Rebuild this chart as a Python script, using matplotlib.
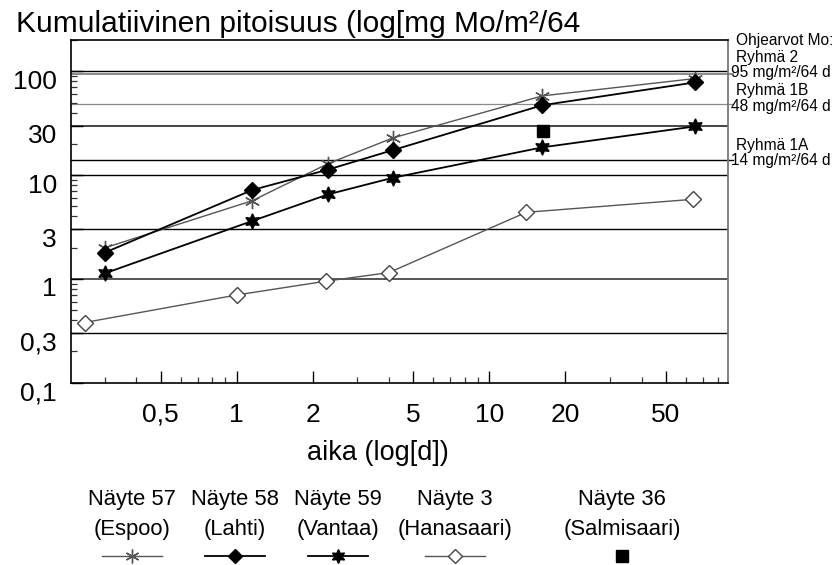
import numpy as np
import matplotlib
matplotlib.use("Agg")
import matplotlib.pyplot as plt
from matplotlib.lines import Line2D
from matplotlib.ticker import FixedLocator, NullFormatter
from matplotlib.transforms import ScaledTranslation

plt.rcParams['font.family'] = ['Liberation Sans', 'DejaVu Sans']

# aika (d) ja kumulatiivinen pitoisuus (mg Mo/m²)
aika = [0.3, 1.15, 2.3, 4.15, 16.2, 65]
espoo = [1.99, 5.66, 12.9, 22.8, 57.9, 85]
lahti = [1.79, 7.17, 11.3, 17.4, 47.1, 78]
vantaa = [1.13, 3.61, 6.52, 9.42, 18.5, 29.4]
aika_hana = [0.25, 1.0, 2.25, 4.0, 14.0, 64.0]
hanasaari = [0.38, 0.70, 0.95, 1.15, 4.38, 5.84]
aika_salmi = [16.3]
salmisaari = [26.5]

# ohjearvot
ohje = [95, 48, 14]
ohje_nimet = ['Ryhmä 2', 'Ryhmä 1B', 'Ryhmä 1A']

y_ticks = [0.1, 0.3, 1, 3, 10, 30, 100]
y_labels = ['0,1', '0,3', '1', '3', '10', '30', '100']
x_ticks = [0.5, 1, 2, 5, 10, 20, 50]
x_labels = ['0,5', '1', '2', '5', '10', '20', '50']

W, H = 839, 565
fig = plt.figure(figsize=(W / 100, H / 100), dpi=100)
ax = fig.add_axes([70.7 / W, 1 - 382.7 / H, (728 - 70.7) / W, (382.7 - 40) / H])
ax.set_xscale('log')
ax.set_yscale('log')
ax.set_xlim(0.22, 88)
ax.set_ylim(0.1, 200)

# vaakaviivat
viivat = {0.3: ('black', 1.0), 1: ('#555555', 1.4), 3: ('black', 1.0),
          10: ('black', 1.0), 30: ('#444444', 1.4), 100: ('black', 1.0)}
for v, (c, lw) in viivat.items():
    ax.axhline(v, color=c, lw=lw, zorder=1)
ax.axhline(95, color='#777777', lw=1.2, xmax=1.008, clip_on=False, zorder=1)
ax.axhline(48, color='#888888', lw=0.9, xmax=1.008, clip_on=False, zorder=1)
ax.axhline(14, color='black', lw=1.0, xmax=1.008, clip_on=False, zorder=1)

ax.plot(aika, espoo, color='#555555', lw=1.0, marker=(6, 2, 0), ms=11,
        mec='#555555', mew=1.0, zorder=3)
ax.plot(aika, lahti, color='black', lw=1.3, marker='D', ms=8.5,
        mfc='black', mec='black', zorder=3)
ax.plot(aika, vantaa, color='black', lw=1.3, marker=(6, 1, 0), ms=11,
        mfc='black', mec='black', zorder=3)
ax.plot(aika_hana, hanasaari, color='#555555', lw=1.0, marker='D', ms=8,
        mfc='white', mec='#444444', mew=1.0, zorder=3)
ax.plot(aika_salmi, salmisaari, ls='none', marker='s', ms=9,
        color='black', zorder=3)

# akselit ja tikit
ax.xaxis.set_major_locator(FixedLocator(x_ticks))
ax.set_xticklabels(x_labels)
x_minor = [m * 10.0 ** e for e in range(-1, 2) for m in range(2, 10)]
ax.xaxis.set_minor_locator(FixedLocator([v for v in x_minor if v not in x_ticks]))
ax.xaxis.set_minor_formatter(NullFormatter())
ax.yaxis.set_major_locator(FixedLocator(y_ticks))
ax.set_yticklabels(y_labels)
y_minor = [m * 10.0 ** e for e in range(-1, 3) for m in range(2, 10)]
ax.yaxis.set_minor_locator(FixedLocator([v for v in y_minor if v not in y_ticks]))
ax.yaxis.set_minor_formatter(NullFormatter())

ax.tick_params(which='major', direction='in', length=8.5, width=1.0,
               labelsize=19, color='black')
ax.tick_params(which='minor', direction='in', length=4.5, width=0.9,
               color='#333333')
ax.tick_params(axis='x', which='major', pad=14.5)
ax.tick_params(axis='y', which='major', pad=10)
ax.tick_params(top=False, right=False, which='both')

siirto = ScaledTranslation(0, -8 / 100, fig.dpi_scale_trans)
for lab in ax.get_yticklabels():
    lab.set_transform(lab.get_transform() + siirto)

for s in ['left', 'bottom', 'top']:
    ax.spines[s].set_color('black')
    ax.spines[s].set_linewidth(1.2)
ax.spines['right'].set_color('#777777')
ax.spines['right'].set_linewidth(1.3)

# otsikko ja selitteet
fig.text(16 / W, 1 - 32 / H, 'Kumulatiivinen pitoisuus (log[mg Mo/m²/64',
         fontsize=21.5, va='baseline', ha='left')
fig.text(378 / W, 1 - 460 / H, 'aika (log[d])', fontsize=19.5,
         va='baseline', ha='center')

fig.text(736 / W, 1 - 45 / H, 'Ohjearvot Mo:', fontsize=11.2, va='baseline')
for nimi, arvo, yb in zip(ohje_nimet, ohje, [61.7, 95, 150]):
    fig.text(736 / W, 1 - yb / H, nimi, fontsize=11.2, va='baseline')
    fig.text(731 / W, 1 - (yb + 15.5) / H, f'{arvo} mg/m²/64 d',
             fontsize=11.2, va='baseline')

# legenda
nimet = ['Näyte 57', 'Näyte 58', 'Näyte 59', 'Näyte 3', 'Näyte 36']
paikat = ['(Espoo)', '(Lahti)', '(Vantaa)', '(Hanasaari)', '(Salmisaari)']
kx = [132, 235, 338, 455, 622]
tyylit = [
    dict(color='#555555', lw=1.0, marker=(6, 2, 0), ms=10, mec='#555555'),
    dict(color='black', lw=1.3, marker='D', ms=7, mfc='black'),
    dict(color='black', lw=1.3, marker=(6, 1, 0), ms=10, mfc='black'),
    dict(color='#555555', lw=1.0, marker='D', ms=7, mfc='white', mec='#444444'),
    dict(color='black', lw=0, marker='s', ms=8),
]
for n, p, x, t in zip(nimet, paikat, kx, tyylit):
    fig.text(x / W, 1 - 505 / H, n, fontsize=15.8, ha='center', va='baseline')
    fig.text(x / W, 1 - 535.5 / H, p, fontsize=15.8, ha='center', va='baseline')
    yl = 1 - 556 / H
    if t['lw'] > 0:
        xs = [(x - 30) / W, x / W, (x + 30) / W]
        fig.add_artist(Line2D(xs, [yl] * 3, markevery=[1], **t))
    else:
        fig.add_artist(Line2D([x / W], [yl], **t))

fig.savefig('out.png', dpi=100)
